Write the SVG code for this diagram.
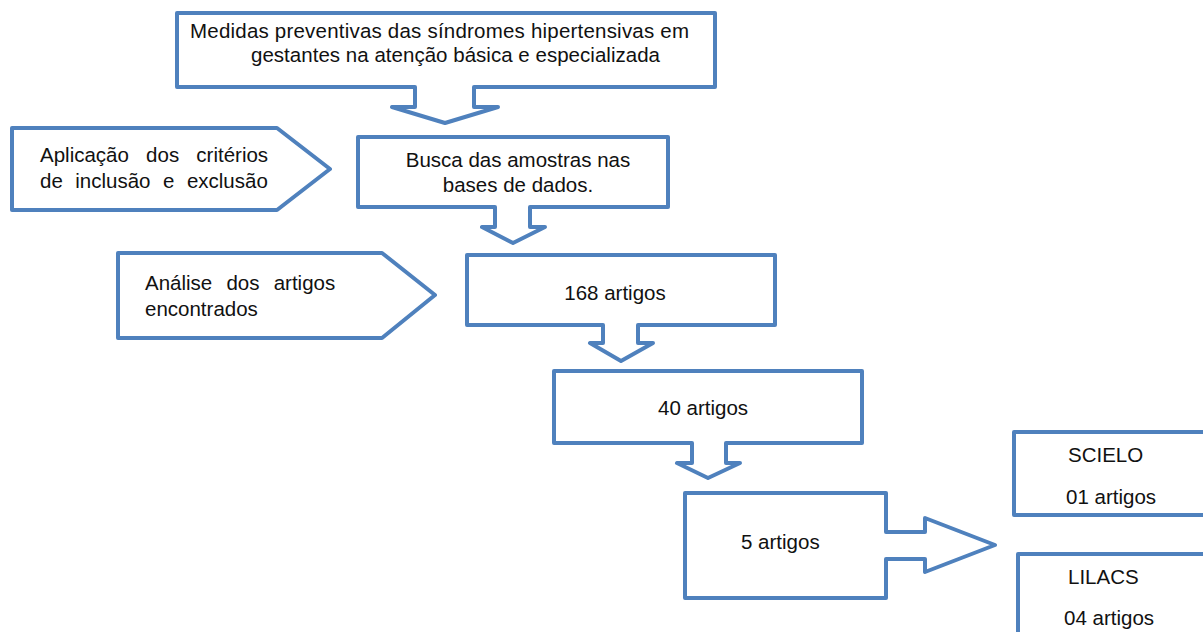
<svg xmlns="http://www.w3.org/2000/svg" width="1203" height="632" viewBox="0 0 1203 632">
  <style>
    .shape { fill: #ffffff; stroke: #4f81bd; stroke-width: 4; stroke-linejoin: round; }
    .label { font-family: "Liberation Sans", Arial, sans-serif; font-size: 20.5px; fill: #111111; }
    .mid { text-anchor: middle; }
  </style>
  <rect width="1203" height="632" fill="#ffffff"/>

  <!-- flow arrows (callout tails) -->
  <g id="connectors">
    <!-- tails are drawn as part of each callout outline below -->
  </g>

  <!-- topic box with downward callout -->
  <g id="node-tema">
    <path class="shape" d="M177,13 H715 V87 H474 V107 H498 L445,123 L392,107 H415 V87 H177 Z"/>
    <text class="label" x="190" y="38" textLength="499" lengthAdjust="spacing">Medidas preventivas das síndromes hipertensivas em</text>
    <text class="label" x="251" y="62" textLength="409" lengthAdjust="spacing">gestantes na atenção básica e especializada</text>
  </g>

  <!-- inclusion/exclusion criteria -->
  <g id="node-criterios">
    <path class="shape" d="M12,128 H277 L330,169 L277,210 H12 Z"/>
    <text class="label" x="40" y="162" word-spacing="11.5">Aplicação dos critérios</text>
    <text class="label" x="40" y="188" word-spacing="6.8">de inclusão e exclusão</text>
  </g>

  <!-- database search -->
  <g id="node-busca">
    <path class="shape" d="M358,137 H668 V207 H530 V227 H545 L513,243 L482,227 H495 V207 H358 Z"/>
    <text class="label mid" x="518" y="167">Busca das amostras nas</text>
    <text class="label mid" x="518" y="192">bases de dados.</text>
  </g>

  <!-- analysis of articles found -->
  <g id="node-analise">
    <path class="shape" d="M118,253 H382 L435,295 L382,338 H118 Z"/>
    <text class="label" x="145" y="290" word-spacing="8.5">Análise dos artigos</text>
    <text class="label" x="145" y="316">encontrados</text>
  </g>

  <!-- 168 articles -->
  <g id="node-168">
    <path class="shape" d="M467,255 H775 V325 H638 V343 H653 L621,361 L590,343 H603 V325 H467 Z"/>
    <text class="label mid" x="615" y="300">168 artigos</text>
  </g>

  <!-- 40 articles -->
  <g id="node-40">
    <path class="shape" d="M554,371 H862 V443 H726 V463 H740 L708,478 L677,463 H692 V443 H554 Z"/>
    <text class="label" x="658" y="415">40 artigos</text>
  </g>

  <!-- 5 articles with rightward callout -->
  <g id="node-5">
    <path class="shape" d="M685,493 H886 V532 H925 V518 L995,545 L925,572 V559 H886 V598 H685 Z"/>
    <text class="label" x="741" y="549">5 artigos</text>
  </g>

  <!-- SCIELO -->
  <g id="node-scielo">
    <rect class="shape" x="1014" y="432" width="200" height="83"/>
    <text class="label" x="1068" y="462">SCIELO</text>
    <text class="label" x="1066" y="504">01 artigos</text>
  </g>

  <!-- LILACS -->
  <g id="node-lilacs">
    <rect class="shape" x="1018" y="554" width="200" height="100"/>
    <text class="label" x="1068" y="584">LILACS</text>
    <text class="label" x="1064" y="625">04 artigos</text>
  </g>
</svg>
